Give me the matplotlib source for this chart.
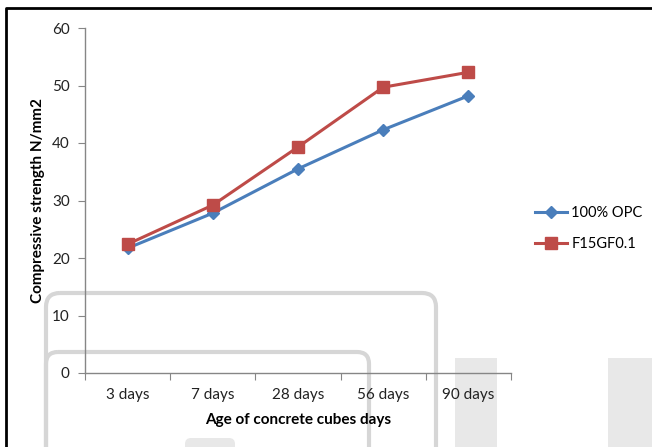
import matplotlib.pyplot as plt
from matplotlib.patches import FancyBboxPatch, Rectangle
from matplotlib.lines import Line2D
from matplotlib.transforms import Affine2D

ages = ['3 days', '7 days', '28 days', '56 days', '90 days']
opc = [21.7, 27.8, 35.5, 42.3, 48.2]
f15gf = [22.4, 29.2, 39.3, 49.7, 52.3]

plt.rcParams['font.family'] = ['Lato', 'DejaVu Sans']

W, H = 652, 447
fig = plt.figure(figsize=(W / 100, H / 100), dpi=100)
ax = fig.add_axes([85 / W, 1 - 373 / H, (511 - 85) / W, (373 - 28) / H])

# faint background shapes, in pixel coordinates from the top-left corner
px = Affine2D().scale(1, -1).translate(0, H)
wm = dict(transform=px, facecolor='none', edgecolor='#d6d6d6', linewidth=3, zorder=-1)
fig.patches.append(FancyBboxPatch((46, 293), 390, 300, boxstyle='round,pad=0,rounding_size=14', **wm))
fig.patches.append(FancyBboxPatch((46, 352), 323, 300, boxstyle='round,pad=0,rounding_size=12', **wm))
for x0, w in [(455, 42), (608, 44)]:
    fig.patches.append(Rectangle((x0, 358), w, 100, transform=px, facecolor='#e8e8e8',
                                 edgecolor='none', zorder=-1))
fig.patches.append(FancyBboxPatch((185, 438), 50, 20, boxstyle='round,pad=0,rounding_size=6',
                                  transform=px, facecolor='#e8e8e8', edgecolor='none', zorder=-1))

# outer black frame (left and top edges)
fig.lines.append(Line2D([6, 6, W], [H, 8, 8], transform=px, color='black', linewidth=2))

x = range(len(ages))
ax.plot(x, opc, color='#4a7ebb', linewidth=2.2, marker='D', markersize=6.5, label='100% OPC')
ax.plot(x, f15gf, color='#be4b48', linewidth=2.2, marker='s', markersize=8, label='F15GF0.1')

ax.set_xlim(-0.5, len(ages) - 0.5)
ax.set_ylim(0, 60)
ax.set_yticks(range(0, 61, 10))
ax.set_xticks([i - 0.5 for i in range(len(ages) + 1)], minor=False)
ax.set_xticklabels([])
ax.set_xticks(list(x), minor=True)
ax.set_xticklabels(ages, minor=True)
ax.tick_params(axis='x', which='major', length=5, color='#868686', direction='out')
ax.tick_params(axis='x', which='minor', length=0, pad=11, labelsize=11, labelcolor='#222222')
ax.tick_params(axis='y', length=5, color='#868686', labelsize=11, labelcolor='#222222', pad=6)

for side in ['top', 'right']:
    ax.spines[side].set_visible(False)
for side in ['left', 'bottom']:
    ax.spines[side].set_color('#868686')
    ax.spines[side].set_linewidth(1)
ax.patch.set_alpha(0)

ax.set_xlabel('Age of concrete cubes days', fontsize=11, fontweight='bold', labelpad=8)
ax.set_ylabel('Compressive strength N/mm2', fontsize=11, fontweight='bold', labelpad=5)

ax.legend(loc='center left', bbox_to_anchor=(1.056, 0.419), frameon=False, fontsize=10.5,
          handlelength=2.2, labelspacing=1.15, handletextpad=0.3, borderpad=0, borderaxespad=0)

fig.savefig('out.png', dpi=100)
